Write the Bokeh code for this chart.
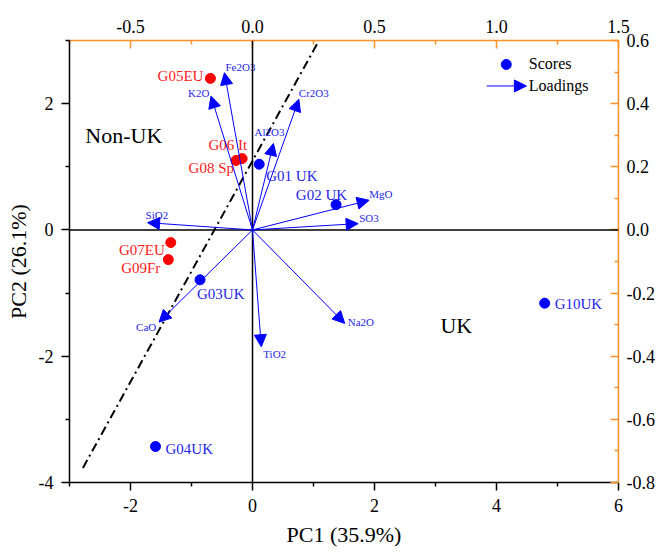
from bokeh.plotting import figure
from bokeh.models import (Range1d, LinearAxis, FixedTicker, CustomJSTickFormatter,
                          Arrow, NormalHead, Span, ColumnDataSource, Label)
from bokeh.core.properties import value
from bokeh.embed import file_html
from bokeh.resources import INLINE

# ---------------- data ----------------
score_names = ["G01 UK", "G02 UK", "G03UK", "G04UK", "G05EU",
               "G06 It", "G07EU", "G08 Sp", "G09Fr", "G10UK"]
score_pc1 = [0.11, 1.37, -0.86, -1.59, -0.69, -0.17, -1.34, -0.27, -1.38, 4.79]
score_pc2 = [1.04, 0.40, -0.79, -3.43, 2.40, 1.13, -0.20, 1.10, -0.47, -1.16]
score_group = ["UK", "UK", "UK", "UK", "Non-UK", "Non-UK", "Non-UK", "Non-UK", "Non-UK", "UK"]

loading_names = ["Fe2O3", "K2O", "Cr2O3", "Al2O3", "MgO", "SO3", "SiO2", "CaO", "TiO2", "Na2O"]
loading_pc1 = [-0.115, -0.17, 0.19, 0.086, 0.478, 0.433, -0.43, -0.383, 0.036, 0.378]
loading_pc2 = [0.498, 0.424, 0.414, 0.274, 0.094, 0.020, 0.023, -0.292, -0.370, -0.296]

boundary_pc1 = [-2.78, 1.09]
boundary_pc2 = [-3.77, 3.0]

bottom_ticks = [-2, 0, 2, 4, 6]
left_ticks = [-4, -2, 0, 2]
top_ticks = [-0.5, 0.0, 0.5, 1.0, 1.5]
right_ticks = [-0.8, -0.6, -0.4, -0.2, 0.0, 0.2, 0.4, 0.6]

# ---------------- layout / style ----------------
FONT = "Liberation Serif"
ORANGE = "#FF9126"
BLUE = "#0000FF"
RED = "#FF0000"
BLUE_TXT = "#1F1FE6"
RED_TXT = "#FF1A1A"

# label placement (screen px offsets from the point; y down)
score_align = {"G05EU": "right", "G06 It": "right", "G08 Sp": "right", "G07EU": "right",
               "G09Fr": "right", "G02 UK": "right", "G01 UK": "left", "G03UK": "left",
               "G10UK": "left", "G04UK": "left"}
score_off = {"G05EU": (-7, -2), "G06 It": (5, -14), "G08 Sp": (-2, 8), "G07EU": (-6, 7),
             "G09Fr": (-8, 8), "G02 UK": (11, -10), "G01 UK": (7, 12), "G03UK": (-3, 14),
             "G10UK": (10, 1), "G04UK": (10, 2)}
load_off = {"Fe2O3": (1, -6), "K2O": (-23, -3), "Cr2O3": (0, -6), "Al2O3": (-19, -11),
            "MgO": (0, -6), "SO3": (1, -6), "SiO2": (-2, -8), "CaO": (-23, 5),
            "TiO2": (2, 7), "Na2O": (3, -1)}

p = figure(width=659, height=552, x_range=Range1d(-3, 6), y_range=Range1d(-4, 3),
           output_backend="svg", toolbar_location=None,
           min_border_left=69, min_border_right=41, min_border_top=40, min_border_bottom=70,
           x_axis_label="PC1 (35.9%)", y_axis_label="PC2 (26.1%)")
p.extra_x_ranges = {"top": Range1d(-0.75, 1.5)}
p.extra_y_ranges = {"right": Range1d(-0.8, 0.6)}
p.grid.visible = False
p.outline_line_color = None
p.background_fill_color = "white"
p.border_fill_color = "white"


def minor_between(ticks):
    step = ticks[1] - ticks[0]
    return [t + step / 2 for t in [ticks[0] - step] + ticks]


def style_axis(ax, color, inward, fmt):
    ax.axis_line_color = color
    ax.axis_line_width = 1.5
    ax.major_tick_line_color = color
    ax.minor_tick_line_color = color
    ax.major_tick_line_width = 1.5
    ax.minor_tick_line_width = 1.5
    if inward:
        ax.major_tick_in, ax.major_tick_out = 8, 0
        ax.minor_tick_in, ax.minor_tick_out = 4, 0
    else:
        ax.major_tick_in, ax.major_tick_out = 0, 8
        ax.minor_tick_in, ax.minor_tick_out = 0, 4
    ax.major_label_text_font = FONT
    ax.major_label_text_font_size = "18px"
    ax.major_label_text_color = "black"
    ax.major_label_standoff = 8
    ax.axis_label_text_font = FONT
    ax.axis_label_text_font_size = "22px"
    ax.axis_label_text_font_style = "normal"
    ax.axis_label_text_color = "black"
    ax.formatter = CustomJSTickFormatter(code="return tick.toFixed(%d)" % fmt)


xb = p.xaxis[0]
xb.ticker = FixedTicker(ticks=bottom_ticks, minor_ticks=minor_between(bottom_ticks))
style_axis(xb, "black", False, 0)
xb.axis_label_standoff = 7
yl = p.yaxis[0]
yl.ticker = FixedTicker(ticks=left_ticks, minor_ticks=minor_between(left_ticks))
style_axis(yl, "black", False, 0)
yl.axis_label_standoff = 5

xt = LinearAxis(x_range_name="top",
                ticker=FixedTicker(ticks=top_ticks, minor_ticks=minor_between(top_ticks)))
style_axis(xt, ORANGE, True, 1)
p.add_layout(xt, "above")
yr = LinearAxis(y_range_name="right",
                ticker=FixedTicker(ticks=right_ticks, minor_ticks=minor_between(right_ticks)))
style_axis(yr, ORANGE, True, 1)
p.add_layout(yr, "right")

# zero lines
p.add_layout(Span(location=0, dimension="height", line_color="black", line_width=1.5))
p.add_layout(Span(location=0, dimension="width", line_color="black", line_width=1.5))

# boundary line
p.line(boundary_pc1, boundary_pc2, line_color="black", line_width=2, line_dash="9 4 2 4")

# loadings arrows
n = len(loading_names)
src_load = ColumnDataSource(dict(x0=[0] * n, y0=[0] * n, x1=loading_pc1, y1=loading_pc2,
                                 name=loading_names,
                                 dx=[load_off[k][0] for k in loading_names],
                                 dy=[load_off[k][1] for k in loading_names]))
p.add_layout(Arrow(x_start="x0", y_start="y0", x_end="x1", y_end="y1", source=src_load,
                   x_range_name="top", y_range_name="right",
                   line_color=BLUE, line_width=1,
                   end=NormalHead(size=12, fill_color=BLUE, line_color=BLUE)))
p.text(x="x1", y="y1", text="name", source=src_load, x_range_name="top", y_range_name="right",
       x_offset="dx", y_offset="dy", text_font=value(FONT), text_font_size="11px",
       text_color=BLUE_TXT, text_baseline="middle", text_align="left")

# scores
colors = [BLUE if g == "UK" else RED for g in score_group]
tcolors = [BLUE_TXT if g == "UK" else RED_TXT for g in score_group]
src_sc = ColumnDataSource(dict(x=score_pc1, y=score_pc2, c=colors))
p.scatter("x", "y", source=src_sc, size=10, marker="circle", fill_color="c", line_color="c")

for align in ("left", "right"):
    idx = [i for i, nm in enumerate(score_names) if score_align[nm] == align]
    s = ColumnDataSource(dict(x=[score_pc1[i] for i in idx], y=[score_pc2[i] for i in idx],
                              t=[score_names[i] for i in idx], c=[tcolors[i] for i in idx],
                              dx=[score_off[score_names[i]][0] for i in idx],
                              dy=[score_off[score_names[i]][1] for i in idx]))
    p.text(x="x", y="y", text="t", source=s, x_offset="dx", y_offset="dy",
           text_font=value(FONT), text_font_size="15px", text_color="c",
           text_baseline="middle", text_align=align)

# region labels
p.add_layout(Label(x=-2.74, y=1.49, text="Non-UK", text_font=FONT, text_font_size="22px",
                   text_baseline="middle", text_color="black"))
p.add_layout(Label(x=3.08, y=-1.51, text="UK", text_font=FONT, text_font_size="22px",
                   text_baseline="middle", text_color="black"))

# legend
p.scatter([4.16], [2.62], size=10, marker="circle", fill_color=BLUE, line_color=BLUE)
p.add_layout(Arrow(x_start=3.84, y_start=2.28, x_end=4.49, y_end=2.28, line_color=BLUE,
                   line_width=1, end=NormalHead(size=12, fill_color=BLUE, line_color=BLUE)))
p.add_layout(Label(x=4.53, y=2.63, text="Scores", text_font=FONT, text_font_size="16px",
                   text_baseline="middle", text_color="black"))
p.add_layout(Label(x=4.53, y=2.28, text="Loadings", text_font=FONT, text_font_size="16px",
                   text_baseline="middle", text_color="black"))

open("out.html", "w").write(file_html(p, INLINE))
